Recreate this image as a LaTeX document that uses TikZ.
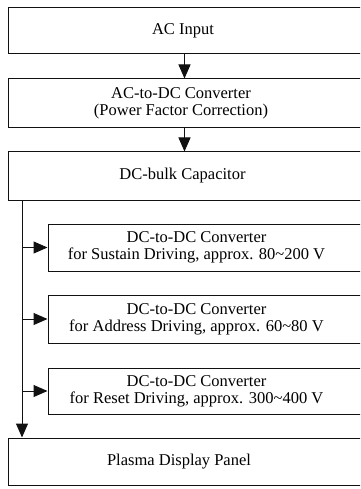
\documentclass[tikz,border=0pt]{standalone}
\usepackage{fontspec}
\setmainfont{Liberation Serif}
\usepackage{tikz}
\usetikzlibrary{arrows.meta,positioning}
\definecolor{Ink}{HTML}{111111}

\tikzset{
  blockbox/.style={draw=Ink,line width=1pt,minimum height=#1,inner sep=0pt},
  tag/.style={align=center,inner sep=0pt,font=\fontsize{16.5}{17}\selectfont},
  feed/.style={draw=Ink,line width=1pt,-{Triangle[length=14pt,width=12pt]}}
}

\begin{document}
\begin{tikzpicture}[x=1pt,y=-1pt]
        \useasboundingbox (0,0) rectangle (360,489);
        \clip (0,0) rectangle (360,489);
        % main chain
        \node[blockbox=46pt,minimum width=353pt] (ac) at (184.5,31) {};
        \node[blockbox=49pt,minimum width=353pt] (acdc) at (184.5,103.5) {};
        \node[blockbox=48pt,minimum width=353pt] (bulk) at (184.5,176) {};
        % dc-dc converters
        \node[blockbox=47pt,minimum width=313pt] (sus) at (204.5,247.5) {};
        \node[blockbox=48pt,minimum width=313pt] (addr) at (204.5,319) {};
        \node[blockbox=46pt,minimum width=313pt] (rst) at (204.5,391) {};
        \node[blockbox=47pt,minimum width=353pt] (pdp) at (184.5,461.5) {};
        % texts
        \node[tag] (ac-t) at (183,31) {AC Input};
        \node[tag] (acdc-t) at (181,103) {AC-to-DC Converter\\(Power Factor Correction)};
        \node[tag] (bulk-t) at (182.5,176) {DC-bulk Capacitor};
        \node[tag] (sus-t) at (196.5,247) {DC-to-DC Converter\\for Sustain Driving, approx. 80\textasciitilde200 V};
        \node[tag] (addr-t) at (196.5,319) {DC-to-DC Converter\\for Address Driving, approx. 60\textasciitilde80 V};
        \node[tag] (rst-t) at (196.5,391) {DC-to-DC Converter\\for Reset Driving, approx. 300\textasciitilde400 V};
        \node[tag] (pdp-t) at (179,462) {Plasma Display Panel};
        \draw[feed] (ac) -- (acdc);
        \draw[feed] (acdc) -- (bulk);
        \coordinate (bus) at (22,200);
        \draw[feed] (bus) -- (bus |- pdp.north);
        \foreach \b in {sus,addr,rst}
          \draw[feed] (bus |- \b.west) -- (\b.west);
      \end{tikzpicture}
\end{document}
